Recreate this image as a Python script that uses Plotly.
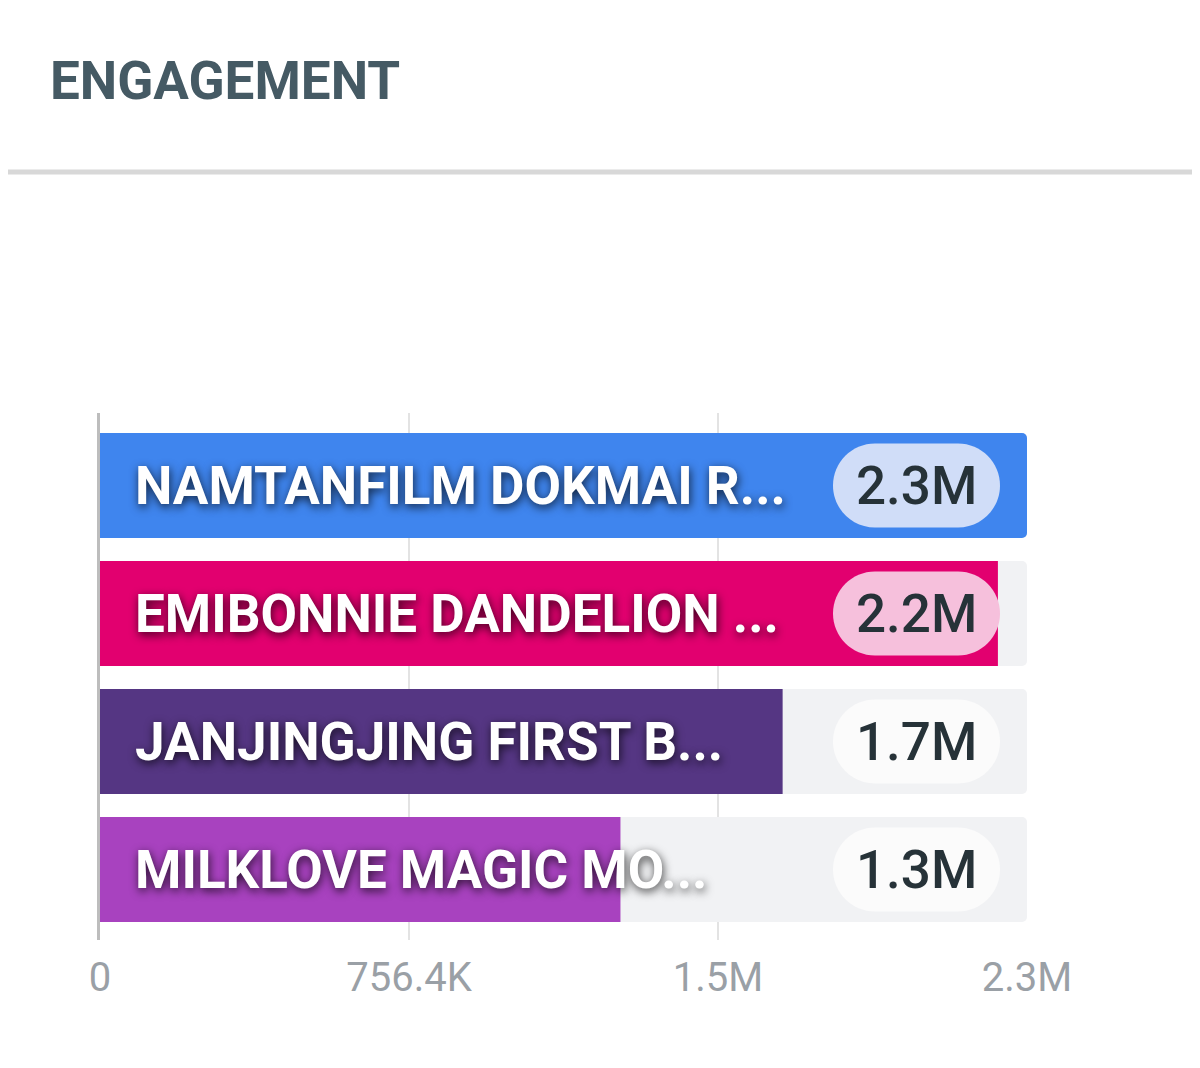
import plotly.graph_objects as go

# ---- data ----
categories = ["NAMTANFILM DOKMAI R...", "EMIBONNIE DANDELION ...",
              "JANJINGJING FIRST B...", "MILKLOVE MAGIC MO..."]
values = [2269200, 2198000, 1671000, 1274000]
value_labels = ["2.3M", "2.2M", "1.7M", "1.3M"]
tick_vals = [0, 756400, 1512800, 2269200]
tick_text = ["0", "756.4K", "1.5M", "2.3M"]
axis_max = 2269200

bar_colors = ["#3f85ee", "#e2006f", "#553683", "#a842bf"]
pill_colors = ["#d0ddf8", "#f6c0dc", "#fbfbfb", "#fbfbfb"]

OFF = 8  # page body margin
W, H = 1200 - OFF, 1068 - OFF
ml = 100 - OFF
mt = 413 - OFF
mr = W - (1027 - OFF)
mb = H - (940 - OFF)
plot_w = W - ml - mr
plot_h = H - mt - mb

fig = go.Figure()
fig.add_trace(go.Bar(
    y=categories, x=[axis_max] * len(categories), orientation="h",
    marker=dict(color="#f1f2f4", line=dict(width=0)),
    hoverinfo="skip", showlegend=False,
))
fig.add_trace(go.Bar(
    y=categories, x=values, orientation="h",
    marker=dict(color=bar_colors, line=dict(width=0)),
    showlegend=False,
))

shapes = []
annotations = []
# pills
cx, hw, hh = -110.5, 41.5, 42
k = 0.5523 * hh
x1, x0 = cx + hw, cx - hw
pill_path = (
    f"M {x0},{-hh} L {x1},{-hh} "
    f"C {x1 + k},{-hh} {x1 + hh},{-k} {x1 + hh},0 "
    f"C {x1 + hh},{k} {x1 + k},{hh} {x1},{hh} "
    f"L {x0},{hh} "
    f"C {x0 - k},{hh} {x0 - hh},{k} {x0 - hh},0 "
    f"C {x0 - hh},{-k} {x0 - k},{-hh} {x0},{-hh} Z"
)
for cat, pc, vl in zip(categories, pill_colors, value_labels):
    shapes.append(dict(
        type="path", xref="x", yref="y", xsizemode="pixel", ysizemode="pixel",
        xanchor=axis_max, yanchor=cat, path=pill_path,
        fillcolor=pc, line=dict(width=0), layer="above",
    ))
    annotations.append(dict(
        x=axis_max, y=cat, xref="x", yref="y", xshift=cx, xanchor="center",
        yanchor="middle", text=vl, showarrow=False,
        font=dict(family="Roboto", size=53, color="#263238", weight=500),
    ))
    annotations.append(dict(
        x=0, y=cat, xref="x", yref="y", xshift=33, xanchor="left",
        yanchor="middle", text=cat, showarrow=False,
        font=dict(family="Roboto", size=53, color="#ffffff", weight="bold",
                  shadow="1px 3px 10px rgba(0,0,0,0.75)"),
    ))

# title + separator
annotations.append(dict(
    x=(48 - 100) / plot_w, y=1 + (413 - 81) / plot_h, xref="paper", yref="paper",
    xanchor="left", yanchor="middle", text="ENGAGEMENT", showarrow=False,
    font=dict(family="Roboto", size=53, color="#455a64", weight="bold"),
))
shapes.append(dict(
    type="line", xref="paper", yref="paper", x0=-0.3, x1=1.4,
    y0=1 + (413 - 172) / plot_h, y1=1 + (413 - 172) / plot_h,
    line=dict(color="#d8d8d8", width=5), layer="above",
))

pitch = (922 - 433 + 23) / 4.0
fig.update_layout(
    width=W, height=H, margin=dict(l=ml, r=mr, t=mt, b=mb),
    paper_bgcolor="#ffffff", plot_bgcolor="#ffffff",
    barmode="overlay", bargap=23 / pitch, barcornerradius=5,
    shapes=shapes, annotations=annotations,
    xaxis=dict(
        range=[0, axis_max], tickvals=tick_vals, ticktext=tick_text,
        showgrid=True, gridcolor="#e3e3e3", gridwidth=2, zeroline=False,
        showline=False, ticks="", ticklabelstandoff=10,
        tickfont=dict(family="Roboto", size=40, color="#9aa0a6"),
    ),
    yaxis=dict(
        type="category", categoryorder="array", categoryarray=categories,
        range=[3.5 + (940 - 933.5) / pitch, -0.5 - (421.5 - 413) / pitch],
        showticklabels=False, showgrid=False, zeroline=False,
        showline=True, linecolor="#bdbdbd", linewidth=3, ticks="",
    ),
)

fig.write_html("out.html")
